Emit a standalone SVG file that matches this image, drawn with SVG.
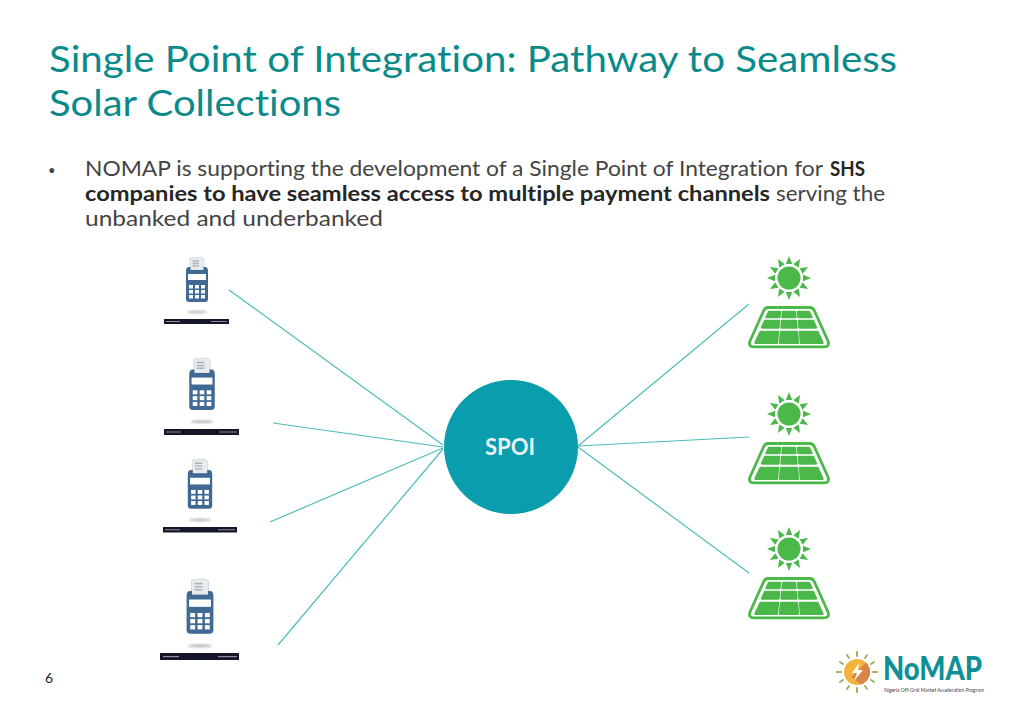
<svg xmlns="http://www.w3.org/2000/svg" width="1024" height="709" viewBox="0 0 1024 709">
<style>
text{font-family:"Lato","Open Sans","Liberation Sans",sans-serif;font-variant-ligatures:none}
.title{font-size:36px;fill:#0b8a8a}
.body{font-size:21px;fill:#444}
.b{font-weight:700;fill:#262626}
.conn{stroke:#4dbdb8;stroke-width:1.2;fill:none}
.sol{fill:#4bb84a}
.pos{fill:#3f6a93}
.bar{fill:#14162a}
.mark{fill:#8a8c98}
</style>
<defs>
<filter id="soft" x="-30%" y="-30%" width="160%" height="160%"><feGaussianBlur stdDeviation="0.35"/></filter>
<filter id="shade" x="-30%" y="-200%" width="160%" height="500%"><feGaussianBlur stdDeviation="1"/></filter>
<g id="posIcon">
<g filter="url(#soft)">
<path d="M-7 0 L4 -1 L7 1 L7 12 L-7 12Z" fill="#e9ecee" stroke="#c9ced2" stroke-width=".6"/>
<path d="M-4.500 3H2M-4.500 5.500H2M-4.500 8H2" stroke="#aab3ba" stroke-width="1.300"/>
<path d="M-8 9 H-6.500 V12 H6.500 V9 H8 Q11 9 11 13 L11 41 Q11 44 8 44 L-8 44 Q-11 44 -11 41 L-11 13 Q-11 9 -8 9Z" class="pos"/>
<rect x="-9" y="16" width="18" height="6" fill="#fff"/>
<g fill="#fff"><rect x="-8" y="27" width="4" height="3.500"/><rect x="-2" y="27" width="4" height="3.500"/><rect x="4" y="27" width="4" height="3.500"/><rect x="-8" y="32" width="4" height="3.500"/><rect x="-2" y="32" width="4" height="3.500"/><rect x="4" y="32" width="4" height="3.500"/><rect x="-8" y="37" width="4" height="3.500"/><rect x="-2" y="37" width="4" height="3.500"/><rect x="4" y="37" width="4" height="3.500"/></g>
</g>
<ellipse cx="0" cy="54" rx="10" ry="1.300" fill="#b9bbbd" filter="url(#shade)"/>
</g>
<path id="ray" d="M-3.200 -14 L0 -22 L3.200 -14Z"/>
<g id="solar">
<circle cx="0" cy="0" r="11.500"/>
<use href="#ray"/><use href="#ray" transform="rotate(30)"/><use href="#ray" transform="rotate(60)"/><use href="#ray" transform="rotate(90)"/><use href="#ray" transform="rotate(120)"/><use href="#ray" transform="rotate(150)"/><use href="#ray" transform="rotate(180)"/><use href="#ray" transform="rotate(210)"/><use href="#ray" transform="rotate(240)"/><use href="#ray" transform="rotate(270)"/><use href="#ray" transform="rotate(300)"/><use href="#ray" transform="rotate(330)"/>
<path d="M-21 29.500 H21 Q24 29.500 25.500 33 L39 63 Q41 68.800 35 68.800 H-35 Q-41 68.800 -39 63 L-25.500 33 Q-24 29.500 -21 29.500Z" fill="none" stroke="#4bb84a" stroke-width="2.800" stroke-linejoin="round"/>
<g stroke="#4bb84a" stroke-width="2.400" stroke-linejoin="round">
<path d="M-20 34 H-9 L-9.500 39 H-22.500Z"/><path d="M-6 34 H6 L6.500 39 H-6.500Z"/><path d="M9 34 H20 L22.500 39 H9.500Z"/>
<path d="M-24 43 H-10 L-10.500 49.500 H-27Z"/><path d="M-7 43 H7 L7.500 49.500 H-7.500Z"/><path d="M10 43 H24 L27 49.500 H10.500Z"/>
<path d="M-28.500 54 H-11 L-12 64.800 H-33.500Z"/><path d="M-8 54 H8 L9 64.800 H-9Z"/><path d="M11 54 H28.500 L33.500 64.800 H12Z"/>
</g>
</g>
</defs>
<text class="title" x="49" y="72" textLength="848" lengthAdjust="spacingAndGlyphs">Single Point of Integration: Pathway to Seamless</text>
<text class="title" x="49" y="116" textLength="292" lengthAdjust="spacingAndGlyphs">Solar Collections</text>
<text class="body" x="48" y="175" font-size="12" style="font-size:13px">•</text>
<text class="body" x="85" y="176" textLength="738" lengthAdjust="spacingAndGlyphs">NOMAP is supporting the development of a Single Point of Integration for</text>
<text class="body b" x="830" y="176" textLength="35" lengthAdjust="spacingAndGlyphs">SHS</text>
<text class="body b" x="85" y="201" textLength="685" lengthAdjust="spacingAndGlyphs">companies to have seamless access to multiple payment channels</text>
<text class="body" x="776" y="201" textLength="109" lengthAdjust="spacingAndGlyphs">serving the</text>
<text class="body" x="85" y="226" textLength="298" lengthAdjust="spacingAndGlyphs">unbanked and underbanked</text>
<g id="connectors" class="conn">
<line x1="229" y1="290" x2="443" y2="445"/>
<line x1="273" y1="423" x2="443" y2="447"/>
<line x1="270" y1="522" x2="443" y2="448"/>
<line x1="278" y1="645" x2="443" y2="449"/>
<line x1="749" y1="304" x2="578" y2="446"/>
<line x1="749" y1="437" x2="578" y2="446"/>
<line x1="749" y1="573" x2="578" y2="447"/>
</g>
<g id="pos-1"><use href="#posIcon" transform="translate(197 258)"/><rect class="bar" x="164" y="319" width="65" height="5"/><rect class="mark" x="166" y="321" width="14" height="1"/><rect class="mark" x="211" y="321" width="16" height="1"/></g>
<g id="pos-2"><use href="#posIcon" transform="translate(202 359) scale(1.160)"/><rect class="bar" x="164" y="429" width="75" height="6"/><rect class="mark" x="166" y="431.500" width="15" height="1"/><rect class="mark" x="219" y="431.500" width="18" height="1"/></g>
<g id="pos-3"><use href="#posIcon" transform="translate(200 460) scale(1.110)"/><rect class="bar" x="163" y="527" width="74" height="5.500"/><rect class="mark" x="165" y="529.300" width="15" height="1"/><rect class="mark" x="218" y="529.300" width="17" height="1"/></g>
<g id="pos-4"><use href="#posIcon" transform="translate(200 580) scale(1.220)"/><rect class="bar" x="160" y="653" width="79" height="7"/><rect class="mark" x="163" y="656" width="16" height="1.200"/><rect class="mark" x="218" y="656" width="19" height="1.200"/></g>
<g id="spoi"><circle cx="511" cy="447" r="67" fill="#0a9dae"/><text x="510" y="455" font-size="22" font-weight="700" fill="#e8f4f6" text-anchor="middle">SPOI</text></g>
<g id="solar-1" class="sol"><use href="#solar" transform="translate(789 278)"/></g>
<g id="solar-2" class="sol"><use href="#solar" transform="translate(789 414)"/></g>
<g id="solar-3" class="sol"><use href="#solar" transform="translate(789 549)"/></g>
<text x="45" y="683" font-size="14" fill="#222">6</text>
<g id="logo">
<circle cx="857" cy="672" r="13" fill="#f4b43c"/>
<path d="M866 662.600 A13 13 0 0 1 861 684.400 L851 677Z" fill="#d9854a"/>
<path d="M859 663 L852 673 H857 L854 681 L863 670 H858Z" fill="#fff"/>
<g stroke="#a3ad62" stroke-width="2" stroke-linecap="round"><path d="M857 652V656M857 688V692M837 672H841M873 672H877"/><path d="M847 655L849 658M867 655L865 658M847 689L849 686M867 689L865 686M840 662L843 664M874 662L871 664M840 682L843 680M874 682L871 680"/></g>
<text x="883" y="680" font-size="32" font-weight="900" fill="#0f8f96" textLength="99" lengthAdjust="spacingAndGlyphs">NoMAP</text>
<text x="884" y="691.500" font-size="5" fill="#444" textLength="100" lengthAdjust="spacingAndGlyphs">Nigeria Off-Grid Market Acceleration Program</text>
</g>
</svg>
